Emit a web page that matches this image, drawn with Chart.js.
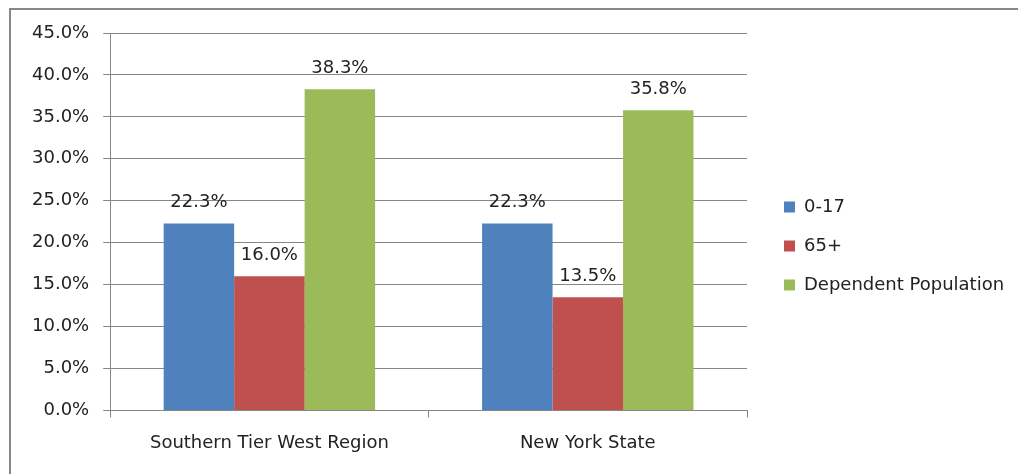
<!DOCTYPE html>
<html>
<head>
<meta charset="utf-8">
<script src="https://cdn.jsdelivr.net/npm/chart.js@4/dist/chart.umd.min.js"></script>
<style>
  html, body { margin: 0; padding: 0; background: #fff; }
  #frame {
    position: absolute; left: 9px; top: 8px; width: 1100px; height: 600px;
    border-left: 2px solid #878787; border-top: 2px solid #878787;
  }
  #wrap { position: absolute; left: 0; top: 0; width: 1018px; height: 474px; }
</style>
</head>
<body>
<div id="frame"></div>
<div id="wrap"><canvas id="chart" width="1018" height="474"></canvas></div>
<script>
// Dependent population shares
const regions = ["Southern Tier West Region", "New York State"];
const youth = [22.3, 22.3];
const seniors = [16.0, 13.5];
const dependent = [38.3, 35.8];
const seriesNames = ["0-17", "65+", "Dependent Population"];
const yTicks = [0, 5, 10, 15, 20, 25, 30, 35, 40, 45];

const font = { family: "'DejaVu Sans', sans-serif", size: 18 };
const textColor = "#222";

// labels above each bar
const valueLabels = {
  id: "valueLabels",
  afterDatasetsDraw(chart) {
    const ctx = chart.ctx;
    ctx.save();
    ctx.font = font.size + "px " + font.family;
    ctx.fillStyle = textColor;
    ctx.textAlign = "center";
    ctx.textBaseline = "bottom";
    chart.data.datasets.forEach((ds, i) => {
      chart.getDatasetMeta(i).data.forEach((bar, j) => {
        ctx.fillText(ds.data[j].toFixed(1) + "%", bar.x, bar.y - 12);
      });
    });
    ctx.restore();
  },
};

// push the legend a bit away from the plot (and nudge it up)
const legendGap = {
  id: "legendGap",
  afterLayout(chart) {
    const lg = chart.legend;
    if (!lg) return;
    lg.left += 16;
    lg.right += 16;
    lg.top -= 5;
    lg.bottom -= 5;
  },
};

const ctx = document.getElementById("chart").getContext("2d");
new Chart(ctx, {
  type: "bar",
  data: {
    labels: regions,
    datasets: [
      { label: seriesNames[0], data: youth, backgroundColor: "#4F81BD" },
      { label: seriesNames[1], data: seniors, backgroundColor: "#C0504D" },
      { label: seriesNames[2], data: dependent, backgroundColor: "#9BBB59" },
    ],
  },
  options: {
    responsive: false,
    animation: false,
    layout: { padding: { left: 18, top: 33, right: 28, bottom: 5 } },
    datasets: { bar: { categoryPercentage: 0.664, barPercentage: 1.0 } },
    scales: {
      x: {
        grid: { offset: true, drawOnChartArea: false, tickLength: 7, color: "#868686" },
        border: { color: "#868686" },
        ticks: { color: textColor, font: font, padding: 15 },
      },
      y: {
        min: 0,
        max: 45,
        afterBuildTicks: (axis) => { axis.ticks = yTicks.map((v) => ({ value: v })); },
        grid: { color: "#868686", tickLength: 7 },
        border: { color: "#868686" },
        ticks: {
          color: textColor,
          font: font,
          padding: 14,
          callback: (v) => v.toFixed(1) + "%",
        },
      },
    },
    plugins: {
      legend: {
        position: "right",
        labels: {
          color: textColor,
          font: font,
          boxWidth: 11,
          boxHeight: 11,
          padding: 21,
        },
      },
      tooltip: { enabled: false },
    },
  },
  plugins: [valueLabels, legendGap],
});
</script>
</body>
</html>
